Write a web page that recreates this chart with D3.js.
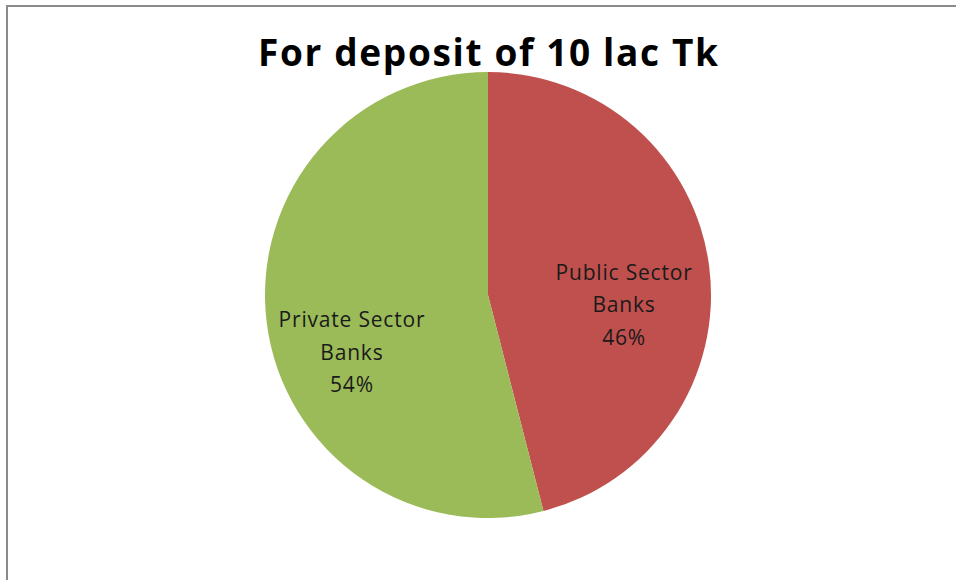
<!DOCTYPE html>
<html>
<head>
<meta charset="utf-8">
<script src="https://cdn.jsdelivr.net/npm/d3@7"></script>
<style>
  html, body { margin: 0; padding: 0; background: #fff; }
  svg { display: block; }
</style>
</head>
<body>
<svg id="chart" width="956" height="580"></svg>
<script>
// Deposit share by bank type
const categories = ["Public Sector Banks", "Private Sector Banks"];
const labelLines = [["Public Sector", "Banks"], ["Private Sector", "Banks"]];
const shares = [46, 54];
const colors = ["#C0504D", "#9BBB59"];
const title = "For deposit of 10 lac Tk";

const W = 956, H = 580;
const cx = 488, cy = 295, R = 223;
// label placement: radius fraction plus a vertical nudge per slice
const labelRadius = 0.615;
const labelNudgeY = [27.5, 40.5];

const svg = d3.select("#chart");

// outer frame (right and bottom run past the viewport)
svg.append("rect")
  .attr("x", 7).attr("y", 6)
  .attr("width", W + 20).attr("height", H + 20)
  .attr("fill", "#fff")
  .attr("stroke", "#8a8a8a")
  .attr("stroke-width", 2);

const data = categories.map((c, i) => ({ name: c, value: shares[i], lines: labelLines[i], color: colors[i], idx: i }));

const pie = d3.pie().sort(null).value(d => d.value);
const arc = d3.arc().innerRadius(0).outerRadius(R);
const labelArc = d3.arc().innerRadius(R * labelRadius).outerRadius(R * labelRadius);

const g = svg.append("g").attr("transform", `translate(${cx},${cy})`);
const arcs = pie(data);

g.selectAll("path.slice")
  .data(arcs)
  .join("path")
  .attr("class", "slice")
  .attr("d", arc)
  .attr("fill", d => d.data.color);

const fontFam = "'Open Sans', Lato, sans-serif";

const labels = g.selectAll("text.lbl")
  .data(arcs)
  .join("text")
  .attr("class", "lbl")
  .attr("text-anchor", "middle")
  .attr("font-family", fontFam)
  .attr("font-size", 21)
  .attr("letter-spacing", 0.8)
  .attr("fill", "#1a1a1a")
  .attr("transform", d => {
    const [x, y] = labelArc.centroid(d);
    return `translate(${x},${y + labelNudgeY[d.data.idx]})`;
  });

labels.each(function(d) {
  const t = d3.select(this);
  const rows = [...d.data.lines, d.data.value + "%"];
  rows.forEach((r, k) => {
    t.append("tspan")
      .attr("x", 0)
      .attr("y", (k - 1) * 32.5 + 7)
      .text(r);
  });
});

// chart title
svg.append("text")
  .attr("x", cx).attr("y", 66)
  .attr("text-anchor", "middle")
  .attr("font-family", fontFam)
  .attr("font-weight", "bold")
  .attr("font-size", 37)
  .attr("textLength", 460)
  .attr("lengthAdjust", "spacing")
  .attr("fill", "#000")
  .text(title);
</script>
</body>
</html>
